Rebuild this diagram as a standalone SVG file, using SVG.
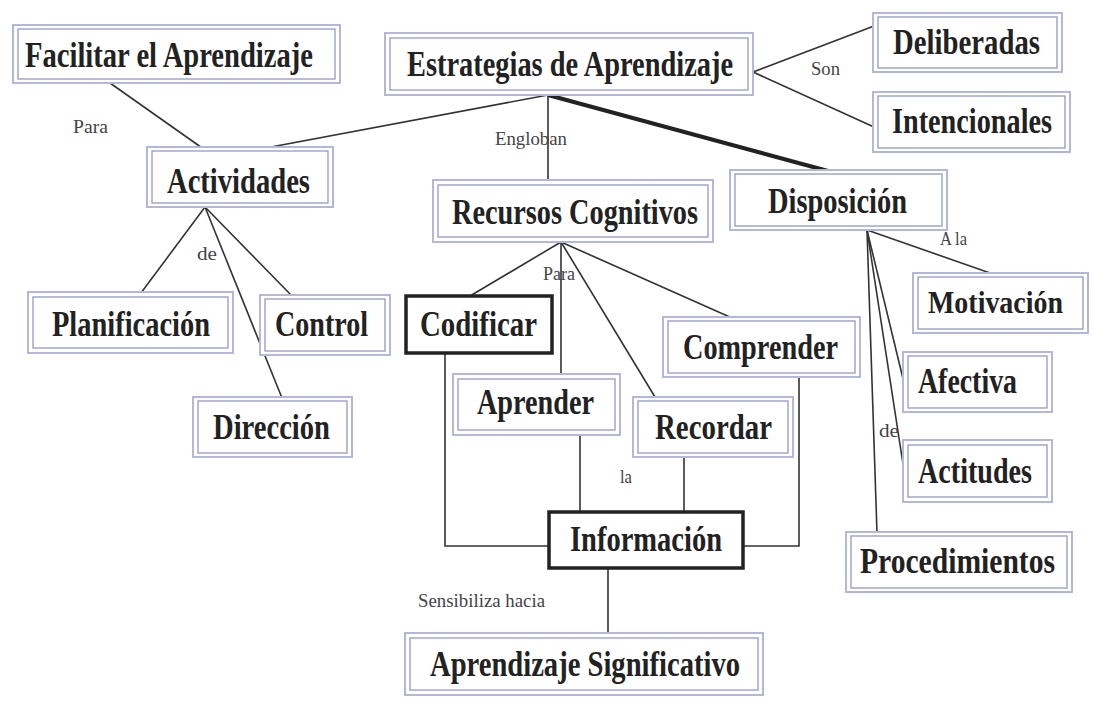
<svg xmlns="http://www.w3.org/2000/svg" width="1094" height="708" viewBox="0 0 1094 708">
<style>
.o{fill:#fff;stroke:#b4b6da;stroke-width:2}
.i{fill:none;stroke:#9698c8;stroke-width:1.3}
.k{fill:#fff;stroke:#222;stroke-width:3.5}
.t{font-family:"Liberation Serif","Times New Roman",serif;font-weight:bold;font-size:35px;fill:#222}
.l{font-family:"Liberation Serif","Times New Roman",serif;font-size:18px;fill:#444}
.c{fill:none;stroke:#333;stroke-width:1.6}
</style>
<rect width="1094" height="708" fill="#fff"/>
<g id="connectors">
<line class="c" x1="110" y1="83" x2="205" y2="150"/>
<line class="c" x1="548" y1="95" x2="255" y2="150"/>
<line class="c" x1="548" y1="95" x2="548" y2="180"/>
<line x1="548" y1="95" x2="828" y2="171" stroke="#222" stroke-width="4"/>
<line class="c" x1="753" y1="72" x2="874" y2="26"/>
<line class="c" x1="753" y1="72" x2="874" y2="127"/>
<line class="c" x1="205" y1="207" x2="138" y2="297"/>
<line class="c" x1="205" y1="207" x2="292" y2="296"/>
<line class="c" x1="205" y1="207" x2="282" y2="398"/>
<line class="c" x1="561" y1="242" x2="470" y2="296"/>
<line class="c" x1="561" y1="242" x2="561" y2="375"/>
<line class="c" x1="561" y1="242" x2="655" y2="397"/>
<line class="c" x1="561" y1="242" x2="732" y2="318"/>
<polyline class="c" points="445,353 445,546 549,546"/>
<line class="c" x1="580" y1="435" x2="580" y2="512"/>
<line class="c" x1="684" y1="457" x2="684" y2="512"/>
<polyline class="c" points="799,377 799,546 743,546"/>
<line class="c" x1="608" y1="568" x2="608" y2="633"/>
<line class="c" x1="867" y1="230" x2="990" y2="273"/>
<line class="c" x1="867" y1="230" x2="905" y2="387"/>
<line class="c" x1="867" y1="230" x2="905" y2="477"/>
<line class="c" x1="867" y1="230" x2="877" y2="533"/>
<text class="l" x="73" y="133" textLength="35" lengthAdjust="spacingAndGlyphs">Para</text>
<text class="l" x="495" y="145" textLength="72" lengthAdjust="spacingAndGlyphs">Engloban</text>
<text class="l" x="811" y="75" textLength="29" lengthAdjust="spacingAndGlyphs">Son</text>
<text class="l" x="197" y="260" textLength="20" lengthAdjust="spacingAndGlyphs">de</text>
<text class="l" x="543" y="280" textLength="32" lengthAdjust="spacingAndGlyphs">Para</text>
<text class="l" x="620" y="483" textLength="12" lengthAdjust="spacingAndGlyphs">la</text>
<text class="l" x="418" y="607" textLength="127" lengthAdjust="spacingAndGlyphs">Sensibiliza hacia</text>
<text class="l" x="940" y="245" textLength="27" lengthAdjust="spacingAndGlyphs">A la</text>
<text class="l" x="879" y="437" textLength="20" lengthAdjust="spacingAndGlyphs">de</text>
</g>
<g id="facilitar"><rect class="o" x="13" y="25" width="327" height="58"/><rect class="i" x="18" y="29" width="317" height="50"/><text class="t" x="25" y="67" textLength="288" lengthAdjust="spacingAndGlyphs">Facilitar el Aprendizaje</text></g>
<g id="estrategias"><rect class="o" x="385" y="33" width="368" height="62"/><rect class="i" x="390" y="38" width="358" height="52"/><text class="t" x="407" y="76" textLength="326" lengthAdjust="spacingAndGlyphs">Estrategias de Aprendizaje</text></g>
<g id="deliberadas"><rect class="o" x="873" y="13" width="189" height="59"/><rect class="i" x="878" y="17" width="179" height="51"/><text class="t" x="893" y="54" textLength="147" lengthAdjust="spacingAndGlyphs">Deliberadas</text></g>
<g id="intencionales"><rect class="o" x="873" y="92" width="197" height="60"/><rect class="i" x="878" y="96" width="187" height="52"/><text class="t" x="892" y="133" textLength="160" lengthAdjust="spacingAndGlyphs">Intencionales</text></g>
<g id="actividades"><rect class="o" x="147" y="147" width="186" height="60"/><rect class="i" x="152" y="151" width="176" height="52"/><text class="t" x="167" y="193" textLength="143" lengthAdjust="spacingAndGlyphs">Actividades</text></g>
<g id="recursos"><rect class="o" x="433" y="180" width="280" height="62"/><rect class="i" x="438" y="185" width="270" height="52"/><text class="t" x="452" y="224" textLength="246" lengthAdjust="spacingAndGlyphs">Recursos Cognitivos</text></g>
<g id="disposicion"><rect class="o" x="730" y="170" width="217" height="60"/><rect class="i" x="735" y="174" width="207" height="52"/><text class="t" x="768" y="213" textLength="139" lengthAdjust="spacingAndGlyphs">Disposición</text></g>
<g id="planificacion"><rect class="o" x="28" y="292" width="205" height="61"/><rect class="i" x="33" y="297" width="195" height="51"/><text class="t" x="52" y="336" textLength="158" lengthAdjust="spacingAndGlyphs">Planificación</text></g>
<g id="control"><rect class="o" x="260" y="295" width="130" height="60"/><rect class="i" x="265" y="299" width="120" height="52"/><text class="t" x="275" y="336" textLength="93" lengthAdjust="spacingAndGlyphs">Control</text></g>
<g id="direccion"><rect class="o" x="193" y="397" width="159" height="60"/><rect class="i" x="198" y="401" width="149" height="52"/><text class="t" x="213" y="439" textLength="117" lengthAdjust="spacingAndGlyphs">Dirección</text></g>
<g id="codificar"><rect class="k" x="406" y="296" width="146" height="57"/><text class="t" x="420" y="336" textLength="117" lengthAdjust="spacingAndGlyphs">Codificar</text></g>
<g id="aprender"><rect class="o" x="453" y="374" width="167" height="61"/><rect class="i" x="458" y="379" width="157" height="51"/><text class="t" x="477" y="414" textLength="117" lengthAdjust="spacingAndGlyphs">Aprender</text></g>
<g id="recordar"><rect class="o" x="633" y="397" width="160" height="60"/><rect class="i" x="638" y="401" width="150" height="52"/><text class="t" x="655" y="439" textLength="117" lengthAdjust="spacingAndGlyphs">Recordar</text></g>
<g id="comprender"><rect class="o" x="663" y="317" width="197" height="60"/><rect class="i" x="668" y="321" width="187" height="52"/><text class="t" x="683" y="359" textLength="155" lengthAdjust="spacingAndGlyphs">Comprender</text></g>
<g id="motivacion"><rect class="o" x="913" y="273" width="175" height="60"/><rect class="i" x="918" y="277" width="165" height="52"/><text class="t" x="928" y="313" textLength="135" lengthAdjust="spacingAndGlyphs" style="font-size:32px">Motivación</text></g>
<g id="afectiva"><rect class="o" x="903" y="352" width="149" height="60"/><rect class="i" x="908" y="356" width="139" height="52"/><text class="t" x="918" y="393" textLength="99" lengthAdjust="spacingAndGlyphs">Afectiva</text></g>
<g id="actitudes"><rect class="o" x="903" y="440" width="149" height="62"/><rect class="i" x="908" y="445" width="139" height="52"/><text class="t" x="918" y="483" textLength="114" lengthAdjust="spacingAndGlyphs">Actitudes</text></g>
<g id="procedimientos"><rect class="o" x="846" y="532" width="226" height="60"/><rect class="i" x="851" y="536" width="216" height="52"/><text class="t" x="860" y="573" textLength="195" lengthAdjust="spacingAndGlyphs">Procedimientos</text></g>
<g id="informacion"><rect class="k" x="549" y="512" width="194" height="56"/><text class="t" x="570" y="551" textLength="152" lengthAdjust="spacingAndGlyphs">Información</text></g>
<g id="significativo"><rect class="o" x="405" y="633" width="358" height="62"/><rect class="i" x="410" y="638" width="348" height="52"/><text class="t" x="430" y="676" textLength="310" lengthAdjust="spacingAndGlyphs">Aprendizaje Significativo</text></g>
</svg>
